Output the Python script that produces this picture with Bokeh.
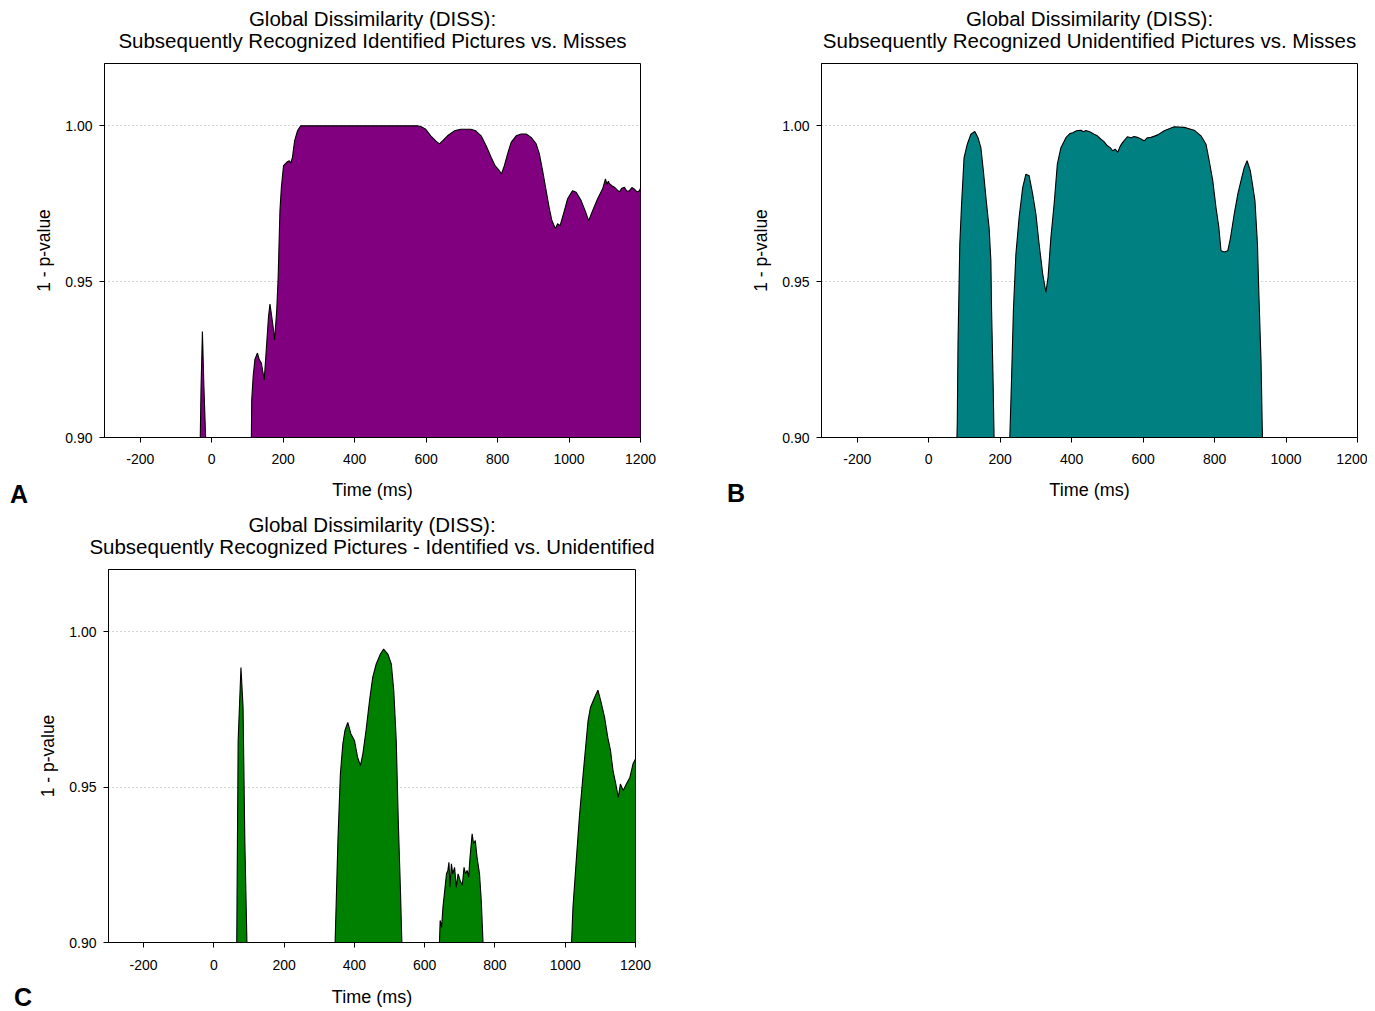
from bokeh.plotting import figure
from bokeh.models import (FixedTicker, PrintfTickFormatter, Title, Range1d,
                          ColumnDataSource, Div)
from bokeh.layouts import column, row
from bokeh.embed import file_html
from bokeh.resources import INLINE

FONT = "Liberation Sans"

# ---------------- data (time in ms, 1 - p-value) ----------------
time_a = [-300, -32, -30, -26, -22, -17, 0, 50, 111, 112,
          116, 121, 128, 133, 139, 147, 154, 159, 163, 168,
          173, 176, 182, 186, 191, 195, 201, 210, 217, 221,
          226, 232, 240, 249, 300, 400, 500, 576, 585, 599,
          613, 627, 637, 646, 660, 679, 697, 725, 739, 754,
          768, 782, 793, 805, 811, 819, 828, 838, 852, 866,
          880, 894, 908, 917, 926, 936, 945, 952, 962, 968,
          975, 987, 996, 1010, 1020, 1034, 1045, 1055, 1066, 1080,
          1094, 1102, 1106, 1110, 1113, 1120, 1127, 1134, 1141, 1148,
          1155, 1162, 1169, 1176, 1183, 1190, 1197, 1200]
pval_a = [0.900, 0.900, 0.915, 0.934, 0.917, 0.900, 0.900, 0.900, 0.900, 0.912,
          0.9196, 0.9251, 0.9271, 0.9250, 0.9239, 0.9185, 0.9303, 0.9388, 0.9428, 0.9388,
          0.9345, 0.9313, 0.9409, 0.9515, 0.9728, 0.9803, 0.9872, 0.9883, 0.9888, 0.9880,
          0.9899, 0.9952, 0.9984, 1.0000, 1.0000, 1.0000, 1.0000, 1.0000, 0.9998, 0.9989,
          0.9968, 0.9952, 0.9942, 0.9952, 0.9968, 0.9984, 0.9989, 0.9989, 0.9984, 0.9968,
          0.9936, 0.9899, 0.9872, 0.9856, 0.9846, 0.9872, 0.9910, 0.9947, 0.9968, 0.9974,
          0.9974, 0.9963, 0.9942, 0.9910, 0.9856, 0.9792, 0.9734, 0.9696, 0.9670, 0.9686,
          0.9680, 0.9728, 0.9766, 0.9792, 0.9787, 0.9760, 0.9728, 0.9696, 0.9728, 0.9766,
          0.9798, 0.9830, 0.9812, 0.9822, 0.9814, 0.9808, 0.9803, 0.9795, 0.9788, 0.9800,
          0.9803, 0.9790, 0.9792, 0.9802, 0.9797, 0.9788, 0.9792, 0.9800]

time_b = [-300, 79, 80, 82, 87, 92, 99, 108, 118, 129,
          138, 146, 153, 161, 169, 174, 176, 180, 183, 227,
          232, 237, 244, 253, 263, 272, 281, 291, 300, 309,
          319, 328, 334, 342, 351, 360, 370, 384, 395, 403,
          414, 426, 433, 440, 452, 463, 472, 482, 490, 500,
          508, 515, 522, 529, 536, 543, 556, 566, 575, 584,
          594, 603, 612, 622, 632, 641, 659, 687, 715, 743,
          762, 776, 785, 795, 804, 812, 818, 827, 837, 844,
          855, 865, 874, 883, 891, 900, 906, 913, 920, 924,
          930, 934, 1200]
pval_b = [0.900, 0.900, 0.905, 0.930, 0.962, 0.9749, 0.9898, 0.9941, 0.9973, 0.9982,
          0.9962, 0.9930, 0.9856, 0.9760, 0.9674, 0.9567, 0.9407, 0.9193, 0.900, 0.900,
          0.9193, 0.9407, 0.9588, 0.9706, 0.9802, 0.9845, 0.9840, 0.9781, 0.9717, 0.9621,
          0.9525, 0.9466, 0.9514, 0.9642, 0.9749, 0.9877, 0.9930, 0.9962, 0.9975, 0.9978,
          0.9984, 0.9986, 0.9981, 0.9985, 0.9980, 0.9973, 0.9968, 0.9957, 0.9950, 0.9936,
          0.9930, 0.9920, 0.9925, 0.9915, 0.9935, 0.9947, 0.9965, 0.9962, 0.9966, 0.9963,
          0.9958, 0.9952, 0.9962, 0.9963, 0.9967, 0.9971, 0.9984, 0.9997, 0.9995, 0.9986,
          0.9968, 0.9941, 0.9888, 0.9824, 0.9738, 0.9674, 0.9599, 0.9595, 0.9599, 0.9637,
          0.9717, 0.9781, 0.9824, 0.9866, 0.9888, 0.9856, 0.9813, 0.9760, 0.9621, 0.9460,
          0.9247, 0.900, 0.900]

time_c = [-300, 65, 69, 77, 83, 88, 94, 345, 353, 360,
          367, 373, 381, 390, 400, 409, 417, 424, 433, 443,
          452, 462, 474, 483, 495, 505, 512, 519, 525, 531,
          535, 642, 644, 648, 652, 657, 662, 666, 669, 672,
          676, 680, 685, 690, 695, 701, 707, 712, 716, 721,
          725, 729, 735, 739, 744, 749, 756, 761, 766, 1018,
          1022, 1032, 1041, 1051, 1058, 1065, 1072, 1082, 1093, 1102,
          1112, 1121, 1129, 1136, 1143, 1151, 1157, 1165, 1174, 1184,
          1193, 1200]
pval_c = [0.900, 0.900, 0.965, 0.9885, 0.9757, 0.9328, 0.900, 0.900, 0.9328, 0.9542,
          0.9639, 0.9682, 0.9708, 0.9671, 0.9650, 0.9596, 0.9569, 0.9607, 0.9682, 0.9778,
          0.9853, 0.9896, 0.9928, 0.9944, 0.9928, 0.9896, 0.9810, 0.9650, 0.9382, 0.9167,
          0.900, 0.900, 0.9071, 0.9049, 0.9114, 0.9167, 0.9221, 0.9232, 0.9258, 0.9178,
          0.9253, 0.9221, 0.9242, 0.9178, 0.9221, 0.9199, 0.9184, 0.9242, 0.9221, 0.9232,
          0.9210, 0.9274, 0.9350, 0.9318, 0.9328, 0.9274, 0.9221, 0.9135, 0.900, 0.900,
          0.9113, 0.9274, 0.9414, 0.9542, 0.9628, 0.9714, 0.9757, 0.9784, 0.9812, 0.9773,
          0.9724, 0.9660, 0.9617, 0.9553, 0.9515, 0.9467, 0.9510, 0.9489, 0.9510, 0.9531,
          0.9575, 0.9590]

x_ticks = [-200, 0, 200, 400, 600, 800, 1000, 1200]
x_tick_labels = ["-200", "0", "200", "400", "600", "800", "1000", "1200"]
y_ticks = [0.90, 0.95, 1.00]
grid_ticks = [0.95, 1.00]

title_top = "Global Dissimilarity (DISS):"
titles_bottom = ["Subsequently Recognized Identified Pictures vs. Misses",
                 "Subsequently Recognized Unidentified Pictures vs. Misses",
                 "Subsequently Recognized Pictures - Identified vs. Unidentified"]
letters = ["A", "B", "C"]
colors = ["#800080", "#008080", "#008000"]


def make_panel(t, v, color, line2, width, height, borders, tick_standoff, xlabel_standoff):
    left, right, top, bottom = borders
    p = figure(width=width, height=height, output_backend="svg", toolbar_location=None,
               x_range=Range1d(-300, 1200), y_range=Range1d(0.90, 1.02),
               min_border_left=left, min_border_right=right,
               min_border_top=top, min_border_bottom=bottom)
    p.outline_line_color = "black"
    p.outline_line_width = 1
    p.background_fill_color = "white"
    p.border_fill_color = "white"

    src = ColumnDataSource(dict(t=t, v=v))
    p.varea(x="t", y1=0.90, y2="v", source=src, fill_color=color)
    p.line("t", "v", source=src, line_color="black", line_width=1.1)

    # title: outer line = p.title, then second line, then a small spacer next to the frame
    p.title.text = title_top
    p.title.align = "center"
    p.title.text_font = FONT
    p.title.text_font_size = "20.5px"
    p.title.text_font_style = "normal"
    p.title.text_color = "black"
    p.title.standoff = -6
    spacer = Title(text=" ", align="center", text_font=FONT, text_font_size="9px",
                   text_font_style="normal", standoff=0)
    p.add_layout(spacer, "above")
    t2 = Title(text=line2, align="center", text_font=FONT, text_font_size="20.5px",
               text_font_style="normal", text_color="black", standoff=0)
    p.add_layout(t2, "above")

    # axes
    for ax in (p.xaxis[0], p.yaxis[0]):
        ax.axis_line_color = "black"
        ax.major_tick_line_color = "black"
        ax.major_tick_out = 5
        ax.major_tick_in = 0
        ax.minor_tick_line_color = None
        ax.major_label_text_font = FONT
        ax.major_label_text_font_size = "14px"
        ax.major_label_text_color = "black"
        ax.axis_label_text_font = FONT
        ax.axis_label_text_font_style = "normal"
        ax.axis_label_text_color = "black"
    p.xaxis.ticker = FixedTicker(ticks=x_ticks)
    p.xaxis.major_label_overrides = {tk: lb for tk, lb in zip(x_ticks, x_tick_labels)}
    p.xaxis.major_label_standoff = tick_standoff
    p.xaxis.axis_label = "Time (ms)"
    p.xaxis.axis_label_text_font_size = "18px"
    p.xaxis.axis_label_standoff = xlabel_standoff
    p.yaxis.ticker = FixedTicker(ticks=y_ticks)
    p.yaxis.formatter = PrintfTickFormatter(format="%.2f")
    p.yaxis.major_label_standoff = 7
    p.yaxis.axis_label = "1 - p-value"
    p.yaxis.axis_label_text_font_size = "17.5px"
    p.yaxis.axis_label_standoff = 8

    p.xgrid.visible = False
    p.ygrid.ticker = FixedTicker(ticks=grid_ticks)
    p.ygrid.grid_line_color = "#a8a8a8"
    p.ygrid.grid_line_dash = "1 3"
    p.ygrid.grid_line_width = 1
    return p


def letter_div(letter, width, height, pad_top, pad_left):
    html = ('<div style="padding:%dpx 0 0 %dpx;font-family:\'Liberation Sans\',Arial,sans-serif;'
            'font-weight:bold;font-size:25px;line-height:25px;color:black;">%s</div>'
            % (pad_top, pad_left, letter))
    return Div(text=html, width=width, height=height, margin=0)


pa = make_panel(time_a, pval_a, colors[0], titles_bottom[0], 696, 510, (75, 85, 62, 72), 11, 13)
pb = make_panel(time_b, pval_b, colors[1], titles_bottom[1], 621, 510, (75, 10, 63, 73), 11, 13)
pc = make_panel(time_c, pval_c, colors[2], titles_bottom[2], 632, 500, (75, 30, 59, 68), 12, 14)

da = letter_div(letters[0], 29, 510, 482, 10)
db = letter_div(letters[1], 21, 510, 481, 2)
dc = letter_div(letters[2], 33, 500, 475, 14)

layout = column(row(da, pa, db, pb), row(dc, pc))
open("out.html", "w").write(file_html(layout, INLINE, title="Global Dissimilarity"))
